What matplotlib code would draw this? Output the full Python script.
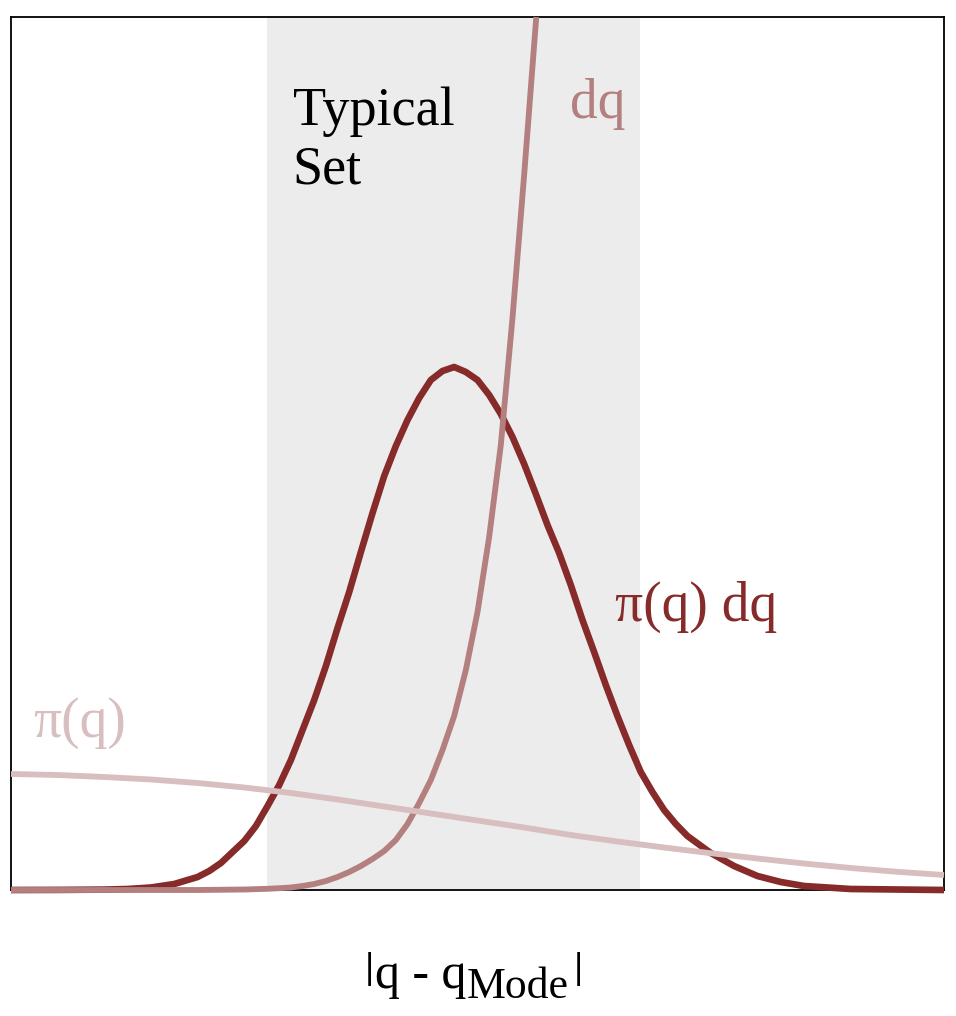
import matplotlib
matplotlib.use("Agg")
import matplotlib.pyplot as plt

plt.rcParams['font.family'] = ['Liberation Serif', 'DejaVu Serif']

c_light = "#D8BEBE"
c_mid = "#B37F7F"
c_dark = "#862A2A"

# pi(q) dq  (typical set density)
x_dens = [0, 0.5, 1, 1.25, 1.5, 1.75, 2, 2.125, 2.25, 2.375, 2.5, 2.625, 2.75,
          2.875, 3, 3.125, 3.25, 3.375, 3.5, 3.625, 3.75, 3.875, 4, 4.125, 4.25,
          4.375, 4.5, 4.625, 4.75, 4.875, 5, 5.125, 5.25, 5.375, 5.5, 5.625,
          5.75, 5.875, 6, 6.125, 6.25, 6.375, 6.5, 6.625, 6.75, 6.875, 7, 7.125,
          7.25, 7.5, 7.75, 8, 8.25, 8.5, 9, 10]
y_dens = [0, 0.001, 0.004, 0.01, 0.025, 0.06, 0.13, 0.19, 0.27, 0.38, 0.49, 0.64,
          0.84, 1.05, 1.30, 1.60, 1.90, 2.24, 2.62, 2.98, 3.38, 3.77, 4.14, 4.44,
          4.70, 4.92, 5.10, 5.19, 5.23, 5.18, 5.10, 4.95, 4.76, 4.53, 4.26, 3.96,
          3.65, 3.37, 3.05, 2.70, 2.38, 2.05, 1.74, 1.45, 1.18, 0.98, 0.80, 0.66,
          0.54, 0.37, 0.24, 0.14, 0.08, 0.04, 0.01, 0.0]

# dq  (volume)
x_vol = [0, 1, 2, 2.5, 2.75, 2.875, 3, 3.125, 3.25, 3.375, 3.5, 3.625, 3.75,
         3.875, 4, 4.125, 4.25, 4.375, 4.5, 4.625, 4.75, 4.875, 5, 5.125, 5.25,
         5.375, 5.5, 5.63]
y_vol = [0, 0, 0, 0.005, 0.012, 0.018, 0.025, 0.04, 0.06, 0.09, 0.13, 0.18,
         0.24, 0.31, 0.39, 0.50, 0.66, 0.87, 1.10, 1.40, 1.74, 2.20, 2.78, 3.53,
         4.45, 5.72, 7.15, 8.73]

# pi(q)  (density)
x_pi = [0, 0.5, 1, 1.5, 2, 2.5, 3, 3.5, 4, 4.5, 5, 5.5, 6, 6.5, 7, 7.5, 8,
        8.5, 9, 9.5, 10]
y_pi = [1.16, 1.15, 1.13, 1.105, 1.07, 1.025, 0.97, 0.905, 0.835, 0.765, 0.695,
        0.625, 0.55, 0.485, 0.425, 0.368, 0.315, 0.265, 0.22, 0.182, 0.15]

typical_set = (2.74, 6.74)

W, H = 956, 1016
fig = plt.figure(figsize=(W / 100, H / 100), dpi=100)
ax = fig.add_axes([11 / W, 1 - 890 / H, 933 / W, 873 / H])

ax.axvspan(typical_set[0], typical_set[1], color="#ECECEC", lw=0, zorder=0)
ax.plot(x_dens, y_dens, color=c_dark, lw=4.8, clip_on=False, zorder=2,
        solid_capstyle='butt', solid_joinstyle='round')
ax.plot(x_vol, y_vol, color=c_mid, lw=4.2, clip_on=False, zorder=3,
        solid_capstyle='butt', solid_joinstyle='round')
ax.plot(x_pi, y_pi, color=c_light, lw=4.2, clip_on=False, zorder=4,
        solid_capstyle='butt', solid_joinstyle='round')

ax.set_xlim(0, 10)
ax.set_ylim(0, 8.73)
ax.set_xticks([])
ax.set_yticks([])
for s in ax.spines.values():
    s.set_linewidth(1.3)
    s.set_zorder(1)

ax.text(3.02, 7.65, "Typical", fontsize=39, color="black", va="baseline")
ax.text(3.02, 7.07, "Set", fontsize=39, color="black", va="baseline")
ax.text(5.99, 7.72, "dq", fontsize=40, color=c_mid, va="baseline")
ax.text(6.47, 2.69, "π(q) dq", fontsize=40, color=c_dark, va="baseline")
ax.text(0.24, 1.53, "π(q)", fontsize=40, color=c_light, va="baseline")


# x label |q - q_Mode|, pieced together
def px_text(x, y, s, size, family=None):
    fig.text(x / W, 1 - y / H, s, fontsize=size, ha="left", va="baseline",
             family=family)


px_text(364, 978, "|", 24, "DejaVu Sans")
px_text(375, 988, "q - q", 36)
px_text(467, 998, "Mode", 31.5)
px_text(573, 978, "|", 24, "DejaVu Sans")

fig.savefig("out.png", dpi=100)
